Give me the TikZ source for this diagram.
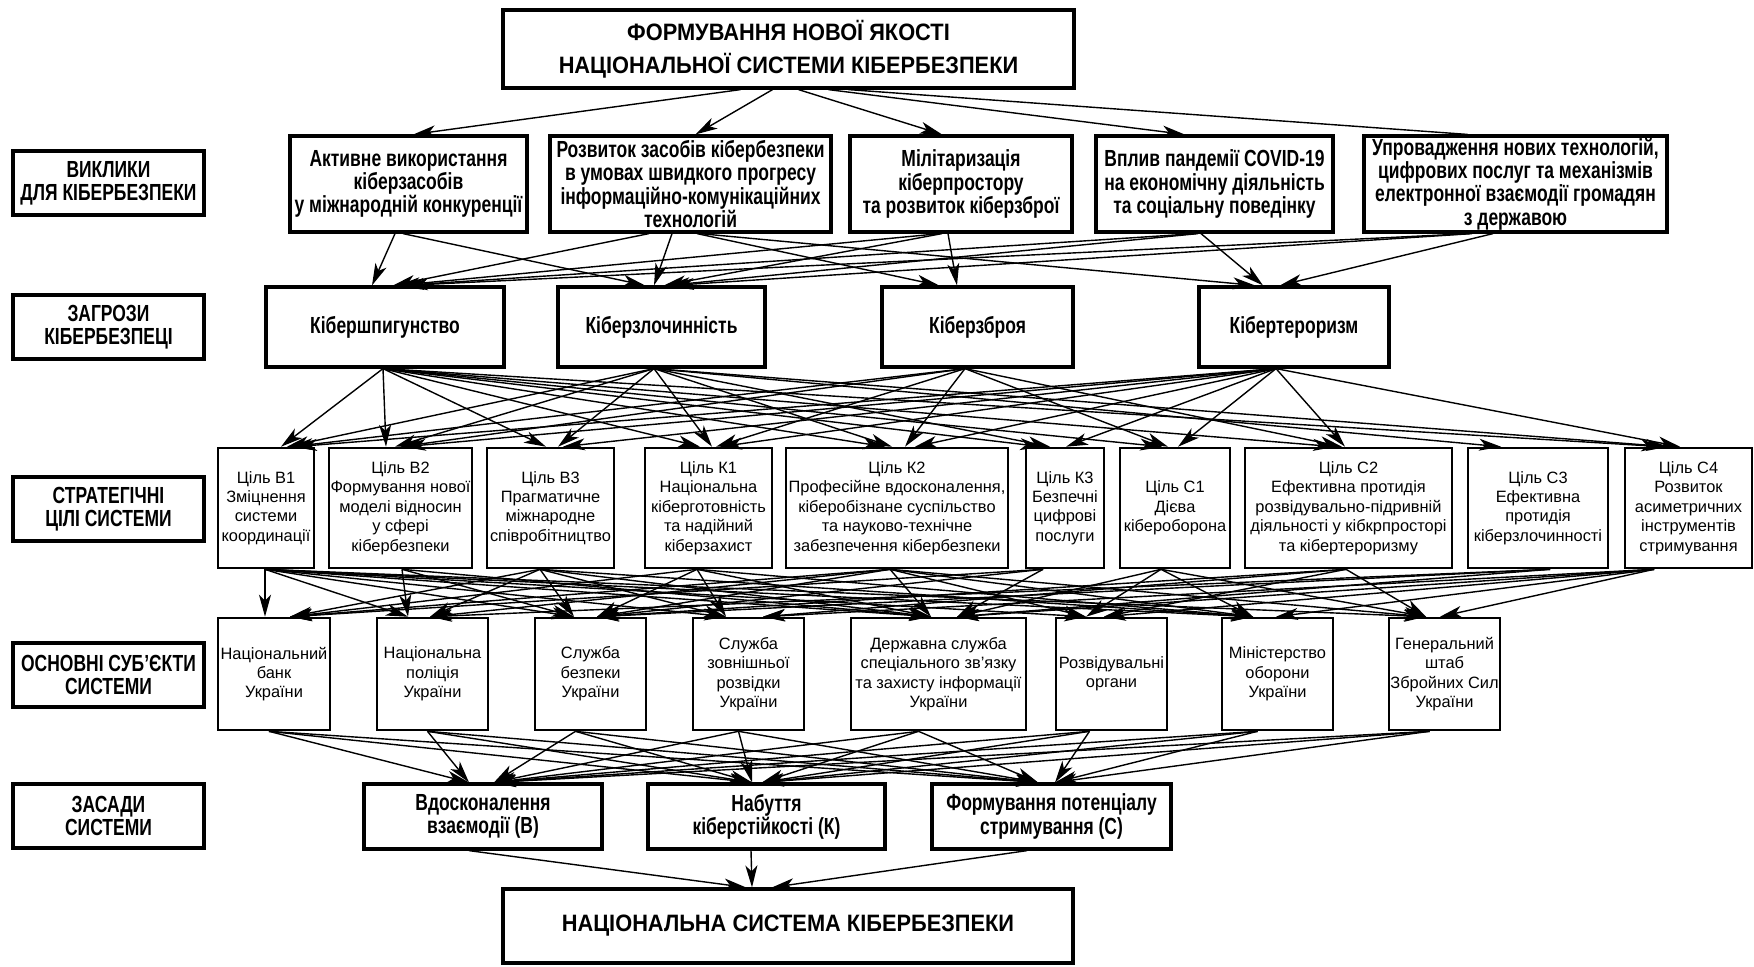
\documentclass[tikz,border=0pt]{standalone}
\usepackage{fontspec}
\setmainfont{Liberation Sans}
\newfontfamily\condf[FakeStretch=0.75]{Liberation Sans}
\newfontfamily\titf[FakeStretch=0.92]{Liberation Sans}
\usetikzlibrary{arrows.meta,calc}
\tikzset{
  bbox/.style={draw, line width=1.6pt, inner sep=0pt, align=center,
    font=\condf\bfseries\fontsize{11.65}{11.6}\selectfont},
  tbox/.style={bbox, font=\titf\bfseries\fontsize{11.85}{16.5}\selectfont},
  rbox/.style={draw, line width=1.3pt, inner sep=0pt, align=center,
    font=\fontsize{8.2}{9.7}\selectfont},
  arr/.style={line width=0.7pt, -{Stealth[length=11pt,width=6pt,inset=3pt]}},
  ln/.style={line width=0.7pt}
}
\newcommand\bx[7]{\node[#6, minimum width={(#4-#2)*0.5pt}, minimum height={(#5-#3)*0.5pt}] (#1) at ({(#2+#4)/2},{(#3+#5)/2}) {#7};}
\newcommand\cn[4]{\draw[arr] ($(#1.south)+(#2,0)$) -- ($(#3.north)+(#4,0)$);}
\begin{document}
\begin{tikzpicture}[x=0.5pt,y=-0.5pt]
\useasboundingbox (0,0) rectangle (1754,966);
% title
\bx{top}{503}{10}{1074}{88}{tbox}{ФОРМУВАННЯ НОВОЇ ЯКОСТІ\\НАЦІОНАЛЬНОЇ СИСТЕМИ КІБЕРБЕЗПЕКИ}
% left labels
\bx{lv}{13}{151}{204}{215}{bbox}{ВИКЛИКИ\\ДЛЯ КІБЕРБЕЗПЕКИ}
\bx{lz}{13}{295}{204}{359}{bbox}{ЗАГРОЗИ\\КІБЕРБЕЗПЕЦІ}
\bx{ls}{13}{477}{204}{541}{bbox}{СТРАТЕГІЧНІ\\ЦІЛІ СИСТЕМИ}
\bx{lo}{13}{643}{204}{707}{bbox}{ОСНОВНІ СУБ’ЄКТИ\\СИСТЕМИ}
\bx{lp}{13}{784}{204}{848}{bbox}{ЗАСАДИ\\СИСТЕМИ}
% challenges
\bx{c1}{290}{136}{527}{232}{bbox}{Активне використання\\кіберзасобів\\у міжнародній конкуренції}
\bx{c2}{550}{136}{831}{232}{bbox}{Розвиток засобів кібербезпеки\\в умовах швидкого прогресу\\інформаційно-комунікаційних\\технологій}
\bx{c3}{850}{136}{1072}{232}{bbox}{Мілітаризація\\кіберпростору\\та розвиток кіберзброї}
\bx{c4}{1096}{136}{1333}{232}{bbox}{Вплив пандемії COVID-19\\на економічну діяльність\\та соціальну поведінку}
\bx{c5}{1364}{136}{1667}{232}{bbox}{Упровадження нових технологій,\\цифрових послуг та механізмів\\електронної взаємодії громадян\\з державою}
% threats
\bx{t1}{266}{287}{504}{367}{bbox}{Кібершпигунство}
\bx{t2}{558}{287}{765}{367}{bbox}{Кіберзлочинність}
\bx{t3}{882}{287}{1073}{367}{bbox}{Кіберзброя}
\bx{t4}{1199}{287}{1389}{367}{bbox}{Кібертероризм}
% goals
\bx{g1}{218}{448}{314}{568}{rbox}{Ціль В1\\Зміцнення\\системи\\координації}
\bx{g2}{329}{448}{472}{568}{rbox}{Ціль В2\\Формування нової\\моделі відносин\\у сфері\\кібербезпеки}
\bx{g3}{487}{448}{614}{568}{rbox}{Ціль В3\\Прагматичне\\міжнародне\\співробітництво}
\bx{g4}{645}{448}{772}{568}{rbox}{Ціль К1\\Національна\\кіберготовність\\та надійний\\кіберзахист}
\bx{g5}{786}{448}{1008}{568}{rbox}{Ціль К2\\Професійне вдосконалення,\\кіберобізнане суспільство\\та науково-технічне\\забезпечення кібербезпеки}
\bx{g6}{1026}{448}{1104}{568}{rbox}{Ціль К3\\Безпечні\\цифрові\\послуги}
\bx{g7}{1120}{448}{1230}{568}{rbox}{Ціль С1\\Дієва\\кібероборона}
\bx{g8}{1245}{448}{1452}{568}{rbox}{Ціль С2\\Ефективна протидія\\розвідувально-підривній\\діяльності у кібкрпросторі\\та кібертероризму}
\bx{g9}{1468}{448}{1608}{568}{rbox}{Ціль С3\\Ефективна\\протидія\\кіберзлочинності}
\bx{g10}{1625}{448}{1752}{568}{rbox}{Ціль С4\\Розвиток\\асиметричних\\інструментів\\стримування}
% actors
\bx{a1}{218}{618}{330}{730}{rbox}{Національний\\банк\\України}
\bx{a2}{377}{618}{488}{730}{rbox}{Національна\\поліція\\України}
\bx{a3}{535}{618}{646}{730}{rbox}{Служба\\безпеки\\України}
\bx{a4}{693}{618}{804}{730}{rbox}{Служба\\зовнішньої\\розвідки\\України}
\bx{a5}{851}{618}{1026}{730}{rbox}{Державна служба\\спеціального зв’язку\\та захисту інформації\\України}
\bx{a6}{1056}{618}{1167}{730}{rbox}{Розвідувальні\\органи}
\bx{a7}{1222}{618}{1333}{730}{rbox}{Міністерство\\оборони\\України}
\bx{a8}{1389}{618}{1500}{730}{rbox}{Генеральний\\штаб\\Збройних Сил\\України}
% principles
\bx{p1}{364}{784}{602}{849}{bbox}{Вдосконалення\\взаємодії (В)}
\bx{p2}{648}{784}{885}{849}{bbox}{Набуття\\кіберстійкості (К)}
\bx{p3}{932}{784}{1171}{849}{bbox}{Формування потенціалу\\стримування (С)}
% bottom
\bx{bot}{503}{889}{1073}{963}{tbox}{НАЦІОНАЛЬНА СИСТЕМА КІБЕРБЕЗПЕКИ}

% title -> challenges
\cn{top}{-48}{c1}{5}
\cn{top}{-16}{c2}{5}
\cn{top}{10}{c3}{-19}
\cn{top}{40}{c4}{-30}
\draw[ln] ($(top.south)+(60,0)$) -- ($(c5.north)+(-48,0)$);

% challenges -> threats
\cn{c1}{-13.5}{t1}{-13}
\cn{c1}{-5.5}{t2}{-16.5}
\cn{c2}{-41.5}{t1}{8}
\cn{c2}{-18.5}{t2}{-7.5}
\cn{c2}{6.5}{t3}{-38.5}
\cn{c2}{9.5}{t4}{-39}
\cn{c3}{-21}{t1}{13}
\cn{c3}{-19}{t2}{2.5}
\cn{c3}{-13}{t3}{-20.5}
\cn{c4}{-18.5}{t1}{17}
\cn{c4}{-16.5}{t2}{6.5}
\cn{c4}{-13.5}{t4}{-31}
\cn{c5}{-45.5}{t1}{21}
\cn{c5}{-43.5}{t2}{10.5}
\cn{c5}{-22.5}{t4}{-14}

% threats -> goals
\foreach \g/\d in {g1/15,g2/-14.5,g3/-4.5,g4/-8.5,g5/-12,g6/-23,g7/-13,g8/-13.5,g10/-25.5}{\cn{t1}{-2}{\g}{\d}}
\foreach \g/\d in {g1/21,g2/-5.5,g3/7.5,g4/3.5,g5/-5,g6/-15,g9/-37,g10/-20.5}{\cn{t2}{-7.5}{\g}{\d}}
\foreach \g/\d in {g1/25,g2/0,g4/7.5,g5/8,g7/-7,g8/-6.5}{\cn{t3}{-12.5}{\g}{\d}}
\foreach \g/\d in {g1/29,g2/3.5,g3/12.5,g4/11.5,g5/18,g6/1,g7/3,g8/-3.5,g10/-8.5}{\cn{t4}{-18}{\g}{\d}}

% goals -> actors
\foreach \a/\d in {a1/-9,a2/-24.5,a3/-16.5,a4/-22.5,a5/-7.5,a6/-25.5,a7/-24.5,a8/-18.5}{\cn{g1}{-1}{\a}{\d}}
\foreach \a/\d in {a2/-24.5,a3/-16.5,a5/-7.5}{\cn{g2}{1.5}{\a}{\d}}
\foreach \a/\d in {a1/16,a2/-2.5,a3/-16.5,a4/-22.5,a5/-7.5,a7/-24.5}{\cn{g3}{-10.5}{\a}{\d}}
\foreach \a/\d in {a1/16,a3/6.5,a4/-22.5,a5/-7.5,a7/-24.5}{\cn{g4}{-11.5}{\a}{\d}}
\foreach \a/\d in {a1/16,a2/-2.5,a3/6.5,a5/-7.5,a6/-25.5,a7/-24.5,a8/-18.5}{\cn{g5}{-7}{\a}{\d}}
\foreach \a/\d in {a1/16,a3/6.5,a5/18.5}{\cn{g6}{-22}{\a}{\d}}
\foreach \a/\d in {a5/18.5,a6/-25.5,a7/-24.5,a8/-18.5}{\cn{g7}{-14}{\a}{\d}}
\foreach \a/\d in {a3/6.5,a4/14.5,a6/-7.5,a8/-18.5}{\cn{g8}{-2.5}{\a}{\d}}
\foreach \a/\d in {a2/-2.5,a3/6.5,a5/18.5}{\cn{g9}{12}{\a}{\d}}
\foreach \a/\d in {a4/14.5,a5/18.5,a6/-7.5,a7/-1.5,a8/-4.5}{\cn{g10}{-34.5}{\a}{\d}}

% actors -> principles
\foreach \a/\s/\da/\db/\dc in {a1/-5/-14/-14.5/-13.5, a2/-5/-14/-14.5/-13.5, a3/-15/11/-14.5/-13.5, a4/-10/11/-14.5/-13.5, a5/-20/11/-4.5/-13.5, a6/-22/11/-4.5/3.5, a7/-20/11/-4.5/3.5, a8/-15/11/-4.5/3.5}{
  \cn{\a}{\s}{p1}{\da}
  \cn{\a}{\s}{p2}{\db}
  \cn{\a}{\s}{p3}{\dc}
}

% principles -> bottom
\cn{p1}{-14}{bot}{-42}
\cn{p2}{-15.5}{bot}{-36}
\cn{p3}{-24.5}{bot}{-16}
\end{tikzpicture}
\end{document}
